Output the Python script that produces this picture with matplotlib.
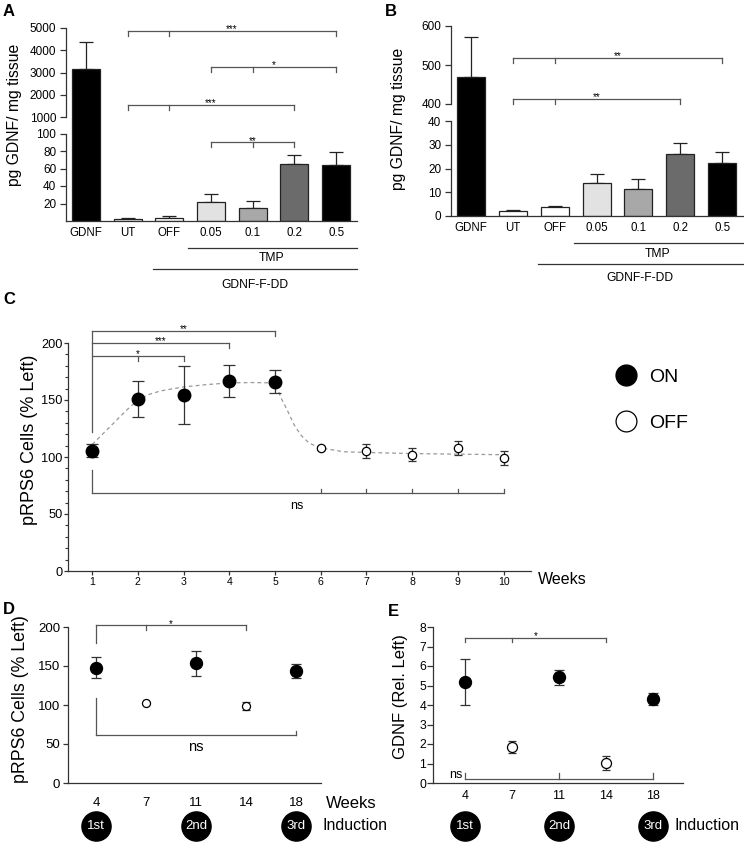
"""GDNF-F-DD figure: ELISA bars (A, B), pRPS6 time course (C), repeated inductions (D, E)."""
import numpy as np
import matplotlib
matplotlib.use("Agg")
import matplotlib.pyplot as plt
import matplotlib.transforms as mtransforms
from matplotlib.lines import Line2D
from matplotlib.ticker import MultipleLocator

plt.rcParams.update({
    "font.family": ["Liberation Sans", "DejaVu Sans"],
    "font.size": 8.5,
    "axes.linewidth": 0.9,
    "axes.edgecolor": "#333333",
    "xtick.color": "#333333", "ytick.color": "#333333",
    "xtick.labelcolor": "black", "ytick.labelcolor": "black",
    "xtick.major.width": 0.9, "ytick.major.width": 0.9,
})

# ---- data ----
groups = ["GDNF", "UT", "OFF", "0.05", "0.1", "0.2", "0.5"]
bar_colors = ["black", "white", "white", "#e2e2e2", "#a8a8a8", "#6b6b6b", "black"]
a_mean = [3150, 2, 4, 22, 15, 65, 64]          # pg GDNF / mg tissue
a_sem = [1230, 1, 1.5, 9, 8, 11, 15]
b_mean = [469, 2.1, 3.7, 14, 11.4, 25.9, 22.5]
b_sem = [103, 0.4, 0.6, 3.7, 4.2, 4.8, 4.6]

c_weeks = [1, 2, 3, 4, 5, 6, 7, 8, 9, 10]
c_on = [True, True, True, True, True, False, False, False, False, False]
c_mean = [105.5, 151, 154.4, 166.4, 166, 108, 105, 102, 107.6, 99.4]
c_sem = [5.5, 16, 25.5, 14, 10, 1.5, 6, 5.5, 6, 6]
# dashed fit curve
fit_weeks = [1, 1.25, 1.5, 1.75, 2, 2.25, 2.5, 3, 3.5, 4, 4.5, 5, 5.13, 5.28,
             5.42, 5.57, 5.75, 6, 6.5, 7, 8, 9, 10]
fit_vals = [111, 121, 131, 141, 150, 155, 158, 161.5, 163.5, 165, 165.3, 165,
            152, 140, 128, 119, 112, 108, 104.6, 104, 103, 102.5, 102]

de_weeks = ["4", "7", "11", "14", "18"]
de_on = [True, False, True, False, True]
d_mean = [148, 102.3, 153.6, 98.8, 143]
d_sem = [13.7, 1.5, 16, 5.3, 9]
e_mean = [5.18, 1.83, 5.42, 1.03, 4.31]
e_sem = [1.17, 0.31, 0.39, 0.38, 0.32]
inductions = ["1st", "2nd", "3rd"]

# ---- layout helpers (pixel boxes on a 744x843 canvas) ----
W, H = 744, 843
fig = plt.figure(figsize=(W / 100, H / 100), dpi=100)


def box(l, t, r, b):
    return [l / W, 1 - b / H, (r - l) / W, (b - t) / H]


def ftext(x, y, s, **kw):
    fig.text(x / W, 1 - y / H, s, **kw)


GREY = "#555555"


def bracket(ax, x1, x2, y, ticks, d, star=None, size=7):
    """Horizontal line with short ticks (d>0 down, d<0 up)."""
    ax.plot([x1, x2], [y, y], color=GREY, lw=0.9, clip_on=False)
    for xt in ticks:
        ax.plot([xt, xt], [y, y - d], color=GREY, lw=0.9, clip_on=False)
    if star:
        ax.annotate(star, xy=((x1 + x2) / 2, y), xytext=(0, -1),
                    textcoords="offset points", ha="center", va="baseline",
                    fontsize=size, annotation_clip=False)


def draw_bars(ax, means, sems, floor=None):
    x = np.arange(len(groups))
    means = np.asarray(means)
    colors = np.asarray(bar_colors)
    if floor is None:
        ax.errorbar(x, means, yerr=[np.zeros(len(x)), sems], fmt="none",
                    ecolor="#222222", elinewidth=0.9, capsize=4.7, capthick=0.9, zorder=1)
        keep = np.ones(len(x), bool)
    else:
        # gap axes: only bars that pass through it, so short bar tops cannot bleed in
        keep = means > floor
    ax.bar(x[keep], means[keep], width=0.67, color=colors[keep], edgecolor="#222222",
           linewidth=0.9, zorder=2)
    ax.set_xlim(-0.48, 6.5)
    for s in ["top", "right"]:
        ax.spines[s].set_visible(False)
    ax.tick_params(axis="y", length=4, pad=3, labelsize=8.5)


def broken_bars(left, right, y_top, y_brk1, y_brk2, y_bot, lims, means, sems):
    top = fig.add_axes(box(left, y_top, right, y_brk1))
    mid = fig.add_axes(box(left, y_brk1, right, y_brk2))
    bot = fig.add_axes(box(left, y_brk2, right, y_bot))
    for ax, lim in zip([top, mid, bot], lims):
        draw_bars(ax, means, sems, floor=lim[0] if ax is mid else None)
        ax.set_ylim(*lim)
    mid.axis("off")
    top.spines["bottom"].set_visible(False)
    top.set_xticks([])
    bot.set_xticks(np.arange(len(groups)), groups)
    bot.tick_params(axis="x", length=0, pad=4, labelsize=8.3)
    return top, bot


def group_lines(ax, tmp_y, tmp_ty, dd_y, dd_ty):
    tr = mtransforms.blended_transform_factory(ax.transData, ax.transAxes)
    ax.plot([2.45, 6.5], [tmp_y, tmp_y], color="#333333", lw=0.9, transform=tr, clip_on=False)
    ax.text(4.46, tmp_ty, "TMP", transform=tr, ha="center", va="center", fontsize=8.7)
    ax.plot([1.6, 6.5], [dd_y, dd_y], color="#333333", lw=0.9, transform=tr, clip_on=False)
    ax.text(4.04, dd_ty, "GDNF-F-DD", transform=tr, ha="center", va="center", fontsize=8.7)


# ---- A ----
a_top, a_bot = broken_bars(66, 357, 28, 117, 133.5, 221,
                           [(1000, 5000), (100, 1000), (0, 100)], a_mean, a_sem)
a_top.set_yticks([1000, 2000, 3000, 4000, 5000])
a_bot.set_yticks([20, 40, 60, 80, 100])
bracket(a_top, 1, 6, 4870, [1, 2, 6], 225, "***")
bracket(a_top, 3, 6, 3250, [3, 4, 6], 225, "*")
bracket(a_top, 1, 5, 1540, [1, 2, 5], 225, "***")
bracket(a_bot, 3, 5, 90, [3, 4, 5], 5.7, "**")
group_lines(a_bot, -0.309, -0.423, -0.549, -0.731)
ftext(15, 115, "pg GDNF/ mg tissue", rotation=90, ha="center", va="center", fontsize=11.3)

# ---- B ----
b_top, b_bot = broken_bars(451, 743, 26, 104, 121, 216,
                           [(400, 600), (40, 400), (0, 40)], b_mean, b_sem)
b_top.set_yticks([400, 500, 600])
b_bot.set_yticks([0, 10, 20, 30, 40])
bracket(b_top, 1, 6, 518, [1, 2, 6], 12.8, "**")
bracket(b_top, 1, 5, 413, [1, 2, 5], 12.8, "**")
group_lines(b_bot, -0.284, -0.40, -0.505, -0.653)
ftext(399, 119, "pg GDNF/ mg tissue", rotation=90, ha="center", va="center", fontsize=11.3)


def points(ax, xs, means, sems, on, big=9, small=6, cap_big=4.5, cap_small=3):
    xs = np.asarray(xs)
    means = np.asarray(means)
    sems = np.asarray(sems)
    on = np.asarray(on)
    ax.errorbar(xs[on], means[on], yerr=sems[on], fmt="o", ms=big, color="black",
                ecolor="#333333", elinewidth=0.9, capsize=cap_big, capthick=0.9, zorder=3)
    ax.errorbar(xs[~on], means[~on], yerr=sems[~on], fmt="o", ms=small, mfc="white",
                mec="black", mew=0.9, ecolor="#333333", elinewidth=0.9,
                capsize=cap_small, capthick=0.9, zorder=3)
    for s in ["top", "right"]:
        ax.spines[s].set_visible(False)


# ---- C ----
ax_c = fig.add_axes(box(68, 343, 531, 571))
ax_c.plot(fit_weeks, fit_vals, ls=(0, (3, 2.5)), color="#999999", lw=0.9, zorder=1)
points(ax_c, c_weeks, c_mean, c_sem, c_on)
ax_c.set_xlim(0.47, 10.6)
ax_c.set_ylim(0, 200)
ax_c.set_xticks(c_weeks)
ax_c.set_yticks([0, 50, 100, 150, 200])
ax_c.yaxis.set_minor_locator(MultipleLocator(10))
ax_c.tick_params(axis="x", length=3, pad=1.5, labelsize=7.6)
ax_c.tick_params(axis="y", which="major", length=3, pad=1, labelsize=9.2)
ax_c.tick_params(axis="y", which="minor", length=2, width=0.8)
ax_c.plot([1, 1], [122, 210.5], color=GREY, lw=0.9, clip_on=False)
bracket(ax_c, 1, 5, 210.5, [5], 4.4, "**")
bracket(ax_c, 1, 4, 200, [4], 4.4, "***")
bracket(ax_c, 1, 3, 189, [2, 3], 4.4, None)
ax_c.annotate("*", xy=(2, 189), xytext=(0, -1), textcoords="offset points",
              ha="center", va="baseline", fontsize=7)
ax_c.plot([1, 1], [89, 68.7], color=GREY, lw=0.9, clip_on=False)
bracket(ax_c, 1, 10, 68.7, [6, 7, 8, 9, 10], -3.5)
ax_c.text(5.48, 57, "ns", ha="center", va="center", fontsize=9)
ftext(30, 440, "pRPS6 Cells (% Left)", rotation=90, ha="center", va="center", fontsize=13)
ftext(538, 579, "Weeks", ha="left", va="center", fontsize=11.5)
handles = [Line2D([], [], ls="none", marker="o", ms=15, color="black"),
           Line2D([], [], ls="none", marker="o", ms=15, mfc="white", mec="black", mew=0.9)]
ax_c.legend(handles, ["ON", "OFF"], loc="center left", frameon=False, fontsize=14,
            bbox_to_anchor=(616 / W, 1 - 400 / H), bbox_transform=fig.transFigure,
            handlelength=1.0, handletextpad=0.7, labelspacing=1.45, borderpad=0,
            borderaxespad=0)


def induction_row(ax, text_x):
    tr = mtransforms.blended_transform_factory(ax.transData, ax.transAxes)
    pos = [i for i, on in enumerate(de_on) if on]
    for p, lab in zip(pos, inductions):
        ax.plot(p, -0.276, "o", ms=21, color="black", transform=tr, clip_on=False)
        ax.text(p, -0.276, lab, color="white", ha="center", va="center",
                fontsize=9.5, transform=tr)
    ftext(text_x, 826, "Induction", ha="left", va="center", fontsize=11.5)


# ---- D ----
ax_d = fig.add_axes(box(68, 627, 321, 783))
xd = np.arange(len(de_weeks))
points(ax_d, xd, d_mean, d_sem, de_on, big=8.6, small=5.8, cap_big=3.5, cap_small=3)
ax_d.set_xlim(-0.56, 4.5)
ax_d.set_ylim(0, 200)
ax_d.set_xticks(xd, de_weeks)
ax_d.set_yticks([0, 50, 100, 150, 200])
ax_d.tick_params(axis="x", length=0, pad=10, labelsize=9.5)
ax_d.tick_params(axis="y", length=3.5, pad=2, labelsize=9.5)
ax_d.plot([0, 0], [180, 202], color=GREY, lw=0.9, clip_on=False)
bracket(ax_d, 0, 3, 202, [1, 3], 6, "*")
ax_d.plot([0, 0], [108.7, 61.5], color=GREY, lw=0.9, clip_on=False)
bracket(ax_d, 0, 4, 61.5, [4], -5)
ax_d.text(2, 46, "ns", ha="center", va="center", fontsize=10.5)
ftext(21, 699, "pRPS6 Cells (% Left)", rotation=90, ha="center", va="center", fontsize=12.8)
ftext(326, 804, "Weeks", ha="left", va="center", fontsize=12)
induction_row(ax_d, 322)

# ---- E ----
ax_e = fig.add_axes(box(433, 627, 683, 783))
points(ax_e, xd, e_mean, e_sem, de_on, big=8.6, small=7.2, cap_big=3.5, cap_small=3)
ax_e.set_xlim(-0.68, 4.64)
ax_e.set_ylim(0, 8)
ax_e.set_xticks(xd, de_weeks)
ax_e.set_yticks(range(9))
ax_e.tick_params(axis="x", length=0, pad=5, labelsize=9)
ax_e.tick_params(axis="y", length=4.3, pad=0.5, labelsize=8.8)
bracket(ax_e, 0, 3, 7.43, [0, 1, 3], 0.2, "*")
bracket(ax_e, 0, 4, 0.22, [0, 2, 4], -0.28)
ax_e.text(-0.06, 0.39, "ns", ha="right", va="center", fontsize=9)
ftext(400, 697, "GDNF (Rel. Left)", rotation=90, ha="center", va="center", fontsize=12)
induction_row(ax_e, 675)

# ---- panel letters ----
for x, y, s in [(3, 11, "A"), (385, 11, "B"), (3, 300, "C"), (3, 609, "D"), (388, 611, "E")]:
    ftext(x, y, s, fontsize=12, fontweight="bold", ha="left", va="center")

fig.savefig("out.png", dpi=100)
